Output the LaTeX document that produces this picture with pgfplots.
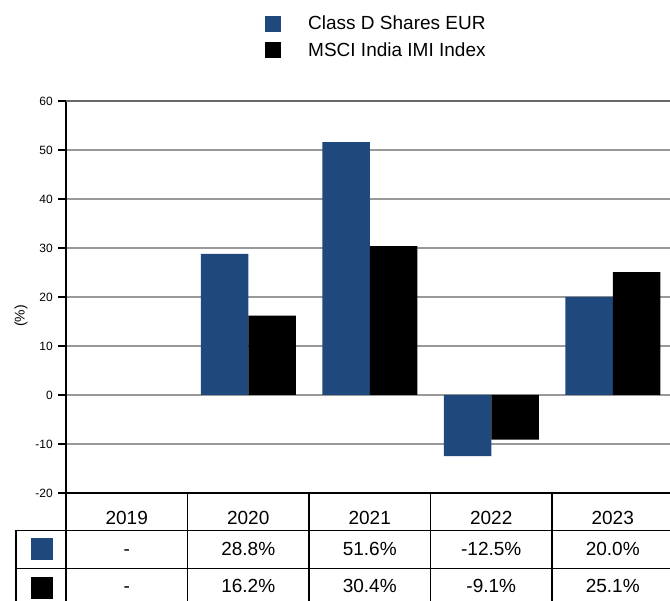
\documentclass[border=0pt]{standalone}
\usepackage{fontspec}
\setmainfont{Liberation Sans}
\usepackage{pgfplots}
\pgfplotsset{compat=1.18}
\definecolor{cblue}{RGB}{31,73,125}
\definecolor{gridgray}{RGB}{153,153,153}
\definecolor{topgray}{RGB}{105,105,105}
\begin{document}
\begin{tikzpicture}[x=1pt,y=1pt]
\begin{axis}[
  at={(66pt,108pt)}, anchor=south west,
  scale only axis, width=607.5pt, height=392pt,
  xmin=-0.5, xmax=4.5, ymin=-20, ymax=60,
  ybar=0pt, bar width=47.5pt,
  axis x line*=bottom, axis y line*=left,
  axis line style={-, black, line width=1.5pt},
  xtick={0,1,2,3,4}, xticklabels={2019,2020,2021,2022,2023},
  x tick style={draw=none},
  xticklabel style={anchor=base, yshift=-24pt, font=\fontsize{19}{22}\selectfont, inner sep=0pt},
  ytick={-20,-10,...,60},
  y tick style={black, line width=1.5pt},
  tick align=outside, major tick length=8pt,
  yticklabel style={anchor=east, inner sep=0pt, xshift=-5pt, font=\fontsize{12}{14}\selectfont},
  /pgf/number format/assume math mode=true,
  ymajorgrids, grid style={gridgray, line width=1.2pt},
  extra y ticks={60}, extra y tick labels={}, extra y tick style={grid style={topgray, line width=1.2pt}},
  ylabel={(\%)},
  ylabel style={at={(axis description cs:-0.0741,0.4515)}, anchor=center, font=\fontsize{14}{16}\selectfont},
  legend style={at={(axis description cs:0.3276,1.2186)}, anchor=north west, draw=none, fill=none,
    inner sep=0pt, row sep=10.7pt, nodes={inner sep=0pt}, font=\fontsize{19}{22}\selectfont},
  legend cell align=left,
]
\addplot[fill=cblue, draw=none, legend image code/.code={\fill[cblue] (0pt,-8pt) rectangle (16pt,8pt); \path[draw=none,fill=none] (0pt,0pt) -- (43pt,0pt);}]
  coordinates {(1,28.8) (2,51.6) (3,-12.5) (4,20.0)};
\addlegendentry{Class D Shares EUR}
\addplot[fill=black, draw=none, legend image code/.code={\fill[black] (0pt,-8pt) rectangle (16pt,8pt); \path[draw=none,fill=none] (0pt,0pt) -- (43pt,0pt);}]
  coordinates {(1,16.2) (2,30.4) (3,-9.1) (4,25.1)};
\addlegendentry{MSCI India IMI Index}
\end{axis}
% table
\draw[line width=1.5pt] (66,108) -- (66,-5);
\foreach \x in {187.5,309,430.5,552} \draw[line width=1.5pt] (\x,108) -- (\x,-5);
\draw[line width=1.5pt] (16,70.5) -- (16,-5);
\draw[line width=1.5pt] (15.25,70.5) -- (690,70.5);
\draw[line width=1.5pt] (15.25,32.3) -- (690,32.3);
\fill[cblue] (31,40.5) rectangle (53,63);
\fill[black] (31,1.5) rectangle (53,24);
\begin{scope}[every node/.style={anchor=base, inner sep=0pt, font=\fontsize{19}{22}\selectfont}]
\node at (126.75,45) {-};
\node at (248.25,45) {28.8\%};
\node at (369.75,45) {51.6\%};
\node at (491.25,45) {-12.5\%};
\node at (612.75,45) {20.0\%};
\node at (126.75,8) {-};
\node at (248.25,8) {16.2\%};
\node at (369.75,8) {30.4\%};
\node at (491.25,8) {-9.1\%};
\node at (612.75,8) {25.1\%};
\end{scope}
\pgfresetboundingbox
\path[use as bounding box] (0,0) rectangle (670,601);
\end{tikzpicture}
\end{document}
